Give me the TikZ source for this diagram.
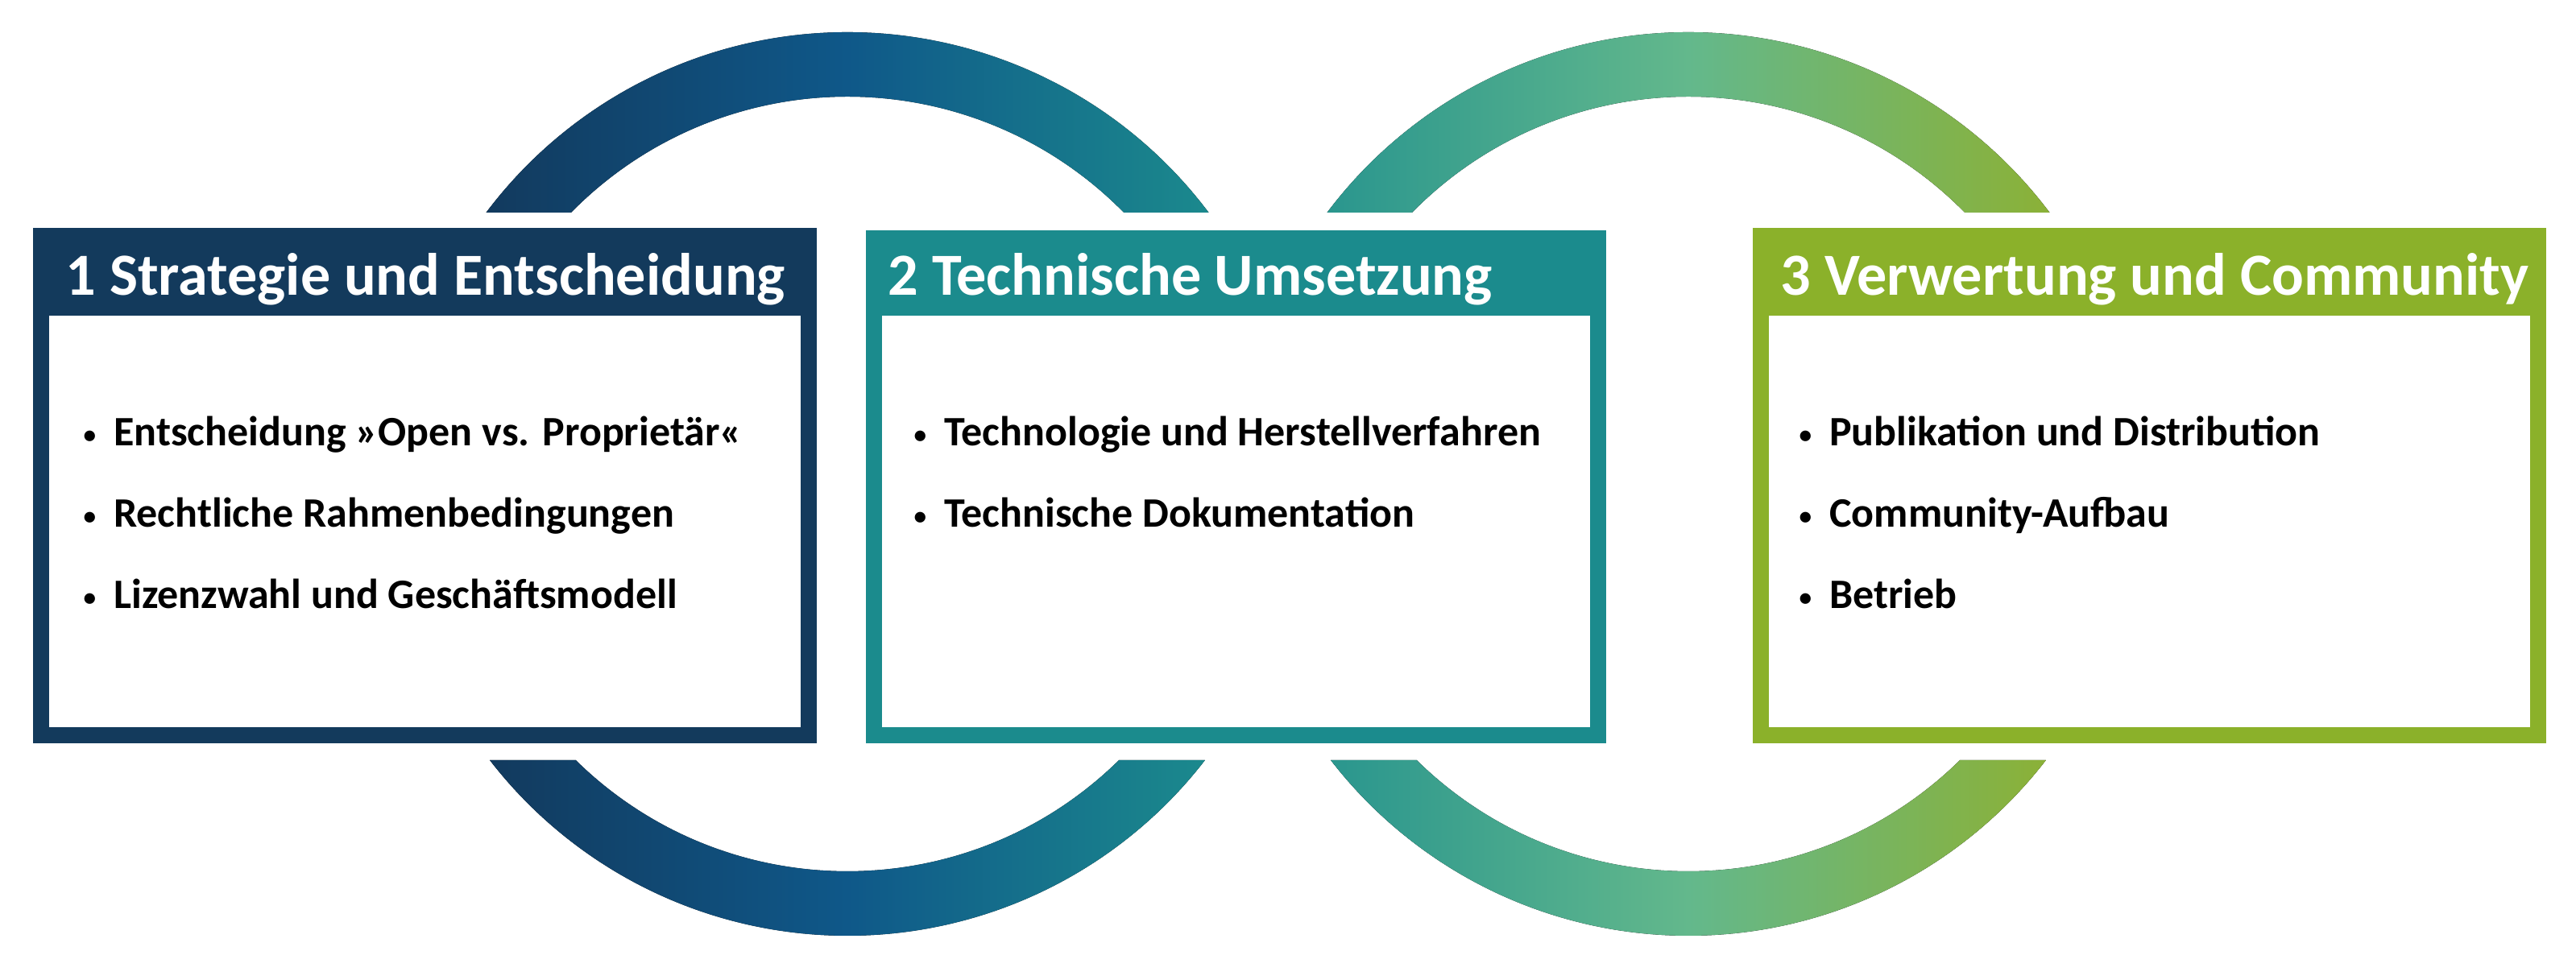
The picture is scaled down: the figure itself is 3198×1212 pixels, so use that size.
\documentclass[tikz,border=0pt]{standalone}
\usepackage{fontspec}
\setmainfont{Carlito}
\usepackage{tikz}
\usetikzlibrary{calc}
\definecolor{navy}{HTML}{133A5C}
\definecolor{teal}{HTML}{1B8B8D}
\definecolor{olive}{HTML}{8BB12A}
\definecolor{ringa}{HTML}{123A5E}
\definecolor{ringb}{HTML}{0F5889}
\definecolor{ringc}{HTML}{1B898D}
\definecolor{ringd}{HTML}{2A968E}
\definecolor{ringe}{HTML}{63B88C}
\definecolor{ringf}{HTML}{8BB137}
\newcommand{\bul}{\raisebox{0.35mm}{\scalebox{0.6}{\textbullet}}\hspace{2.2mm}}

\begin{document}
\begin{tikzpicture}[x=0.1mm,y=0.1mm,
     head/.style={anchor=base west,inner sep=0pt,text=white,font=\bfseries\fontsize{21.1}{25}\selectfont},
     item/.style={anchor=base west,inner sep=0pt,font=\bfseries\fontsize{14.8}{17}\selectfont}]
     \useasboundingbox (0,0) rectangle (3198,1212);
     \coordinate (c1) at (1052,611);
     \coordinate (c2) at (2096,611);
     % rings behind the boxes
     \fill[left color=ringa,right color=ringc,middle color=ringb]
          ($(c1)+(448.5,337)$) arc[start angle=36.92,end angle=143.08,radius=561]
          -- ++(105.4,0) arc[start angle=135.52,end angle=44.48,radius=481] -- cycle;
     \fill[left color=ringa,right color=ringc,middle color=ringb]
          ($(c1)+(443.9,-343)$) arc[start angle=-37.69,end angle=-142.31,radius=561]
          -- ++(106.7,0) arc[start angle=-134.51,end angle=-45.49,radius=481] -- cycle;
     \fill[left color=ringd,right color=ringf,middle color=ringe]
          ($(c2)+(448.5,337)$) arc[start angle=36.92,end angle=143.08,radius=561]
          -- ++(105.4,0) arc[start angle=135.52,end angle=44.48,radius=481] -- cycle;
     \fill[left color=ringd,right color=ringf,middle color=ringe]
          ($(c2)+(443.9,-343)$) arc[start angle=-37.69,end angle=-142.31,radius=561]
          -- ++(106.7,0) arc[start angle=-134.51,end angle=-45.49,radius=481] -- cycle;
     % boxes
     \fill[navy] (41,289) rectangle (1014,929);
     \fill[white] (61,309) rectangle (994,820);
     \fill[teal] (1075,289) rectangle (1994,926);
     \fill[white] (1095,309) rectangle (1974,820);
     \fill[olive] (2176,289) rectangle (3161,929);
     \fill[white] (2196,309) rectangle (3141,820);
     % titles
     \node[head] at (81,845) (strat) {1 Strategie und Entscheidung};
     \node[head] at (1102,845) (tech) {2 Technische Umsetzung};
     \node[head] at (2210,845) (verw) {3 Verwertung und Community};
     % items
     \node[item] at (103,658) (s1) {\bul Entscheidung »Open vs. Proprietär«};
     \node[item] at (103,557) (s2) {\bul Rechtliche Rahmenbedingungen};
     \node[item] at (103,456) (s3) {\bul Lizenzwahl und Geschäftsmodell};
     \node[item] at (1134,658) (t1) {\bul Technologie und Herstellverfahren};
     \node[item] at (1134,557) (t2) {\bul Technische Dokumentation};
     \node[item] at (2233,658) (v1) {\bul Publikation und Distribution};
     \node[item] at (2233,557) (v2) {\bul Community-Aufbau};
     \node[item] at (2233,456) (v3) {\bul Betrieb};
\end{tikzpicture}
\end{document}
